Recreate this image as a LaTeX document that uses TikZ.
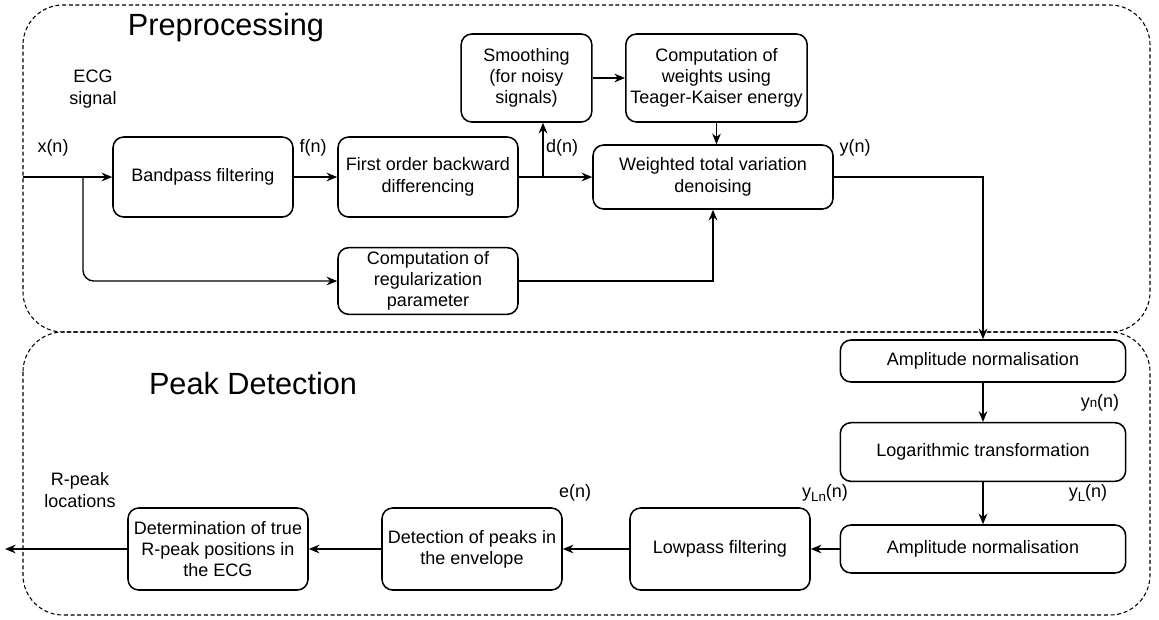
\documentclass[tikz,border=0pt]{standalone}
\usepackage{fontspec}
\setmainfont{Liberation Sans}
\usetikzlibrary{arrows.meta}

\begin{document}
\begin{tikzpicture}[
			x=0.75pt, y=-0.75pt,
			>={Stealth[length=8pt, width=6.5pt]},
			line width=1.05pt,
			every node/.style={font=\fontsize{13.5pt}{16pt}\selectfont},
			block/.style={draw, rounded corners=8pt, align=center, inner sep=1pt, line width=1.15pt},
			lbl/.style={align=center, inner sep=0pt},
			title/.style={font=\fontsize{23pt}{26pt}\selectfont, inner sep=0pt}
		]
			\useasboundingbox (0,0) rectangle (1159,619);
			
			% the two dashed stages
			\draw[dash pattern=on 3pt off 2pt, line width=0.8pt, rounded corners=30pt] (23,5) rectangle (1150,332);
			\draw[dash pattern=on 3pt off 2pt, line width=0.8pt, rounded corners=30pt] (23,332) rectangle (1150,615);
			\node[title] (pre) at (226,28) {Preprocessing};
			\node[title] (peak) at (253,384) {Peak Detection};
			
			% preprocessing blocks
			\node[block, minimum width=135pt, minimum height=60pt] (bp) at (203,177) {Bandpass filtering};
			\node[block, minimum width=135pt, minimum height=60pt] (fod) at (428,177) {First order backward\\differencing};
			\node[block, minimum width=98pt, minimum height=66pt] (smooth) at (526.5,78) {Smoothing\\(for noisy\\signals)};
			\node[block, minimum width=136pt, minimum height=66pt] (weights) at (716.5,78) {Computation of\\weights using\\Teager-Kaiser energy};
			\node[block, minimum width=180pt, minimum height=48pt] (wtv) at (713,177) {Weighted total variation\\denoising};
			\node[block, minimum width=135pt, minimum height=50pt] (reg) at (428,281) {Computation of\\regularization\\parameter};
			
			% peak detection blocks
			\node[block, minimum width=214pt, minimum height=31.5pt] (an1) at (983,361) {Amplitude normalisation};
			\node[block, minimum width=214pt, minimum height=44pt] (log) at (983,452) {Logarithmic transformation};
			\node[block, minimum width=214pt, minimum height=36pt] (an2) at (983,549) {Amplitude normalisation};
			\node[block, minimum width=135pt, minimum height=61.5pt] (lp) at (720,549) {Lowpass filtering};
			\node[block, minimum width=135pt, minimum height=61.5pt] (det) at (472,549) {Detection of peaks in\\the envelope};
			\node[block, minimum width=135pt, minimum height=61.5pt] (tru) at (218,549) {Determination of true\\R-peak positions in\\the ECG};
			
			% signal labels
			\node[lbl] (ecg) at (93,89) {ECG\\signal};
			\node[lbl] (xn) at (53,148) {x(n)};
			\node[lbl] (fn) at (313,148) {f(n)};
			\node[lbl] (dn) at (562,148) {d(n)};
			\node[lbl] (yn) at (855,148) {y(n)};
			\node[lbl] (ynn) at (1100,403) {y\raisebox{0pt}{\fontsize{10pt}{10pt}\selectfont n}(n)};
			\node[lbl] (yl) at (1088,493) {y\raisebox{-2.5pt}{\fontsize{10pt}{10pt}\selectfont L}(n)};
			\node[lbl] (yln) at (825,493) {y\raisebox{-2.5pt}{\fontsize{10pt}{10pt}\selectfont Ln}(n)};
			\node[lbl] (en) at (575,493) {e(n)};
			\node[lbl] (rloc) at (80,490) {R-peak\\locations};
			
			\coordinate (src) at (23,177);
			\coordinate (xsplit) at (83,177);
			\coordinate (dsplit) at (543,177);
			\coordinate (out) at (5,549);
			
			% connectors
			\draw[->] (src) -- (bp.west);
			\draw[->, rounded corners=8pt] (xsplit) |- (reg.west);
			\draw[->] (bp) -- (fod);
			\draw[->] (fod) -- (wtv);
			\draw[->] (dsplit) -- (dsplit |- smooth.south);
			\draw[->] (smooth) -- (weights);
			\draw[->] (weights) -- (weights |- wtv.north);
			\draw[->] (reg.east) -| (wtv.south);
			\draw[->] (wtv.east) -| (an1.north);
			\draw[->] (an1) -- (log);
			\draw[->] (log) -- (an2);
			\draw[->] (an2) -- (lp);
			\draw[->] (lp) -- (det);
			\draw[->] (det) -- (tru);
			\draw[->] (tru) -- (out);
		\end{tikzpicture}
\end{document}
